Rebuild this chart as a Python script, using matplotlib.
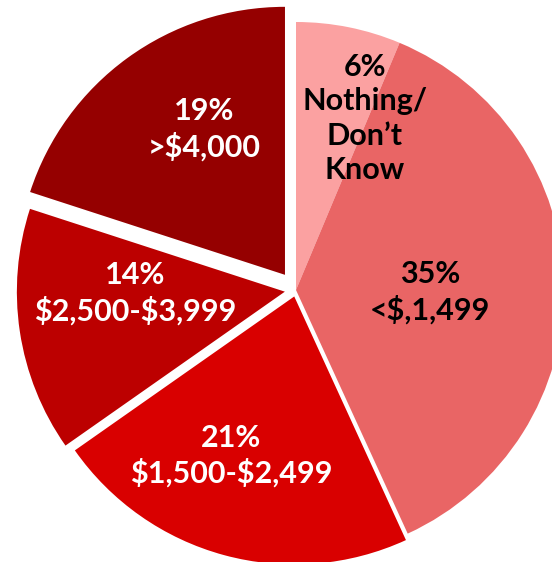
import numpy as np
import matplotlib.pyplot as plt

# datos del grafico
pct_labels = ["6%", "35%", "21%", "14%", "19%"]
categories = ["Nothing/\nDon\u2019t\nKnow", "<$,1,499", "$1,500-$2,499", "$2,500-$3,999", ">$4,000"]
values = [6, 35, 21, 14, 19]

colors = ["#FBA1A1", "#E96565", "#D90000", "#BC0000", "#950000"]
text_colors = ["black", "black", "white", "white", "white"]
explode = [0, 0, 0.025, 0.042, 0.07]
# posicion de cada etiqueta: radio y giro (grados, horario) respecto al centro del sector
label_r = [0.69, 0.5, 0.64, 0.56, 0.62]
label_shift = [10.5, 2, 6.5, 8, 7]

fig = plt.figure(figsize=(5.52, 5.62), dpi=100)
ax = fig.add_axes([0, 0, 1, 1])

wedges, _ = ax.pie(values, colors=colors, explode=explode, startangle=90,
                   counterclock=False, radius=1,
                   wedgeprops=dict(linewidth=0))

# centro en pixel (296, 290), radio 268 px
cx, cy, r = 296, 290, 268
ax.set_xlim(-cx / r, (552 - cx) / r)
ax.set_ylim(-(562 - cy) / r, cy / r)
ax.set_aspect("auto")
ax.axis("off")

for w, p, c, tc, lr, sh in zip(wedges, pct_labels, categories, text_colors, label_r, label_shift):
    mid = np.deg2rad((w.theta1 + w.theta2) / 2 - sh)
    x0, y0 = w.center
    ax.text(x0 + lr * np.cos(mid), y0 + lr * np.sin(mid), p + "\n" + c,
            ha="center", va="center", color=tc, fontsize=22,
            fontweight="bold", family="Lato", linespacing=1.28,
            parse_math=False)

fig.savefig("out.png", dpi=100)
